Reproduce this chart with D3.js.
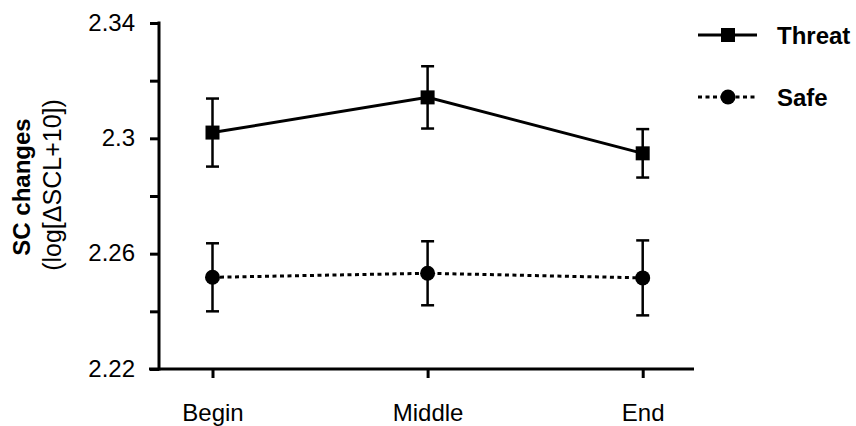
<!DOCTYPE html>
<html><head><meta charset="utf-8">
<script src="https://cdn.jsdelivr.net/npm/d3@7"></script>
<style>body{margin:0;background:#fff}svg{display:block}text{font-family:"Liberation Sans",Arial,sans-serif;fill:#000}</style>
</head><body>
<svg id="c" width="856" height="426"></svg>
<script>
const categories = ["Begin", "Middle", "End"];
const threatMeans = [2.302, 2.3142, 2.2948];
const threatErrors = [0.0118, 0.0108, 0.0084];
const safeMeans = [2.2518, 2.2532, 2.2516];
const safeErrors = [0.0118, 0.0111, 0.013];
const majorTicks = [2.22, 2.26, 2.3, 2.34];
const minorTicks = [2.24, 2.28, 2.32];
const tickLabels = ["2.22", "2.26", "2.3", "2.34"];
const seriesNames = ["Threat", "Safe"];

const svg = d3.select("#c");
const x = d3.scalePoint().domain(categories).range([212.5, 642.7]);
const y = d3.scaleLinear().domain([2.22, 2.34]).range([369, 23]);

// axes
const yAxis = d3.axisLeft(y).tickValues(majorTicks.concat(minorTicks)).tickSize(9)
  .tickFormat(d => { const i = majorTicks.indexOf(d); return i >= 0 ? tickLabels[i] : ""; });
const gy = svg.append("g").attr("transform", "translate(159,0)").call(yAxis);
gy.select(".domain").attr("stroke-width", 3).attr("d", "M0,21.5V370.5");
gy.selectAll(".tick line").attr("stroke-width", 3);
gy.selectAll(".tick text").attr("font-size", 24).attr("x", -24).attr("dy", "0.3em").attr("fill", "#000");

const xAxis = d3.axisBottom(x).tickSize(9).tickSizeOuter(0);
const gx = svg.append("g").attr("transform", "translate(0,369)").call(xAxis);
gx.select(".domain").attr("stroke-width", 3).attr("d", "M149,0H694");
gx.selectAll(".tick line").attr("stroke-width", 3);
gx.selectAll(".tick text").attr("font-size", 24).attr("y", 52).attr("dy", null).attr("fill", "#000");
svg.selectAll(".domain, .tick line").attr("stroke", "#000");

// y label
const yl = svg.append("g").attr("transform", "translate(0,187) rotate(-90)");
yl.append("text").attr("x", 0).attr("y", 30).attr("text-anchor", "middle")
  .attr("font-size", 24).attr("font-weight", "bold").text("SC changes");
yl.append("text").attr("x", 2).attr("y", 61).attr("text-anchor", "middle")
  .attr("font-size", 25).text("(log[\u0394SCL+10])");

const series = [
  {name: seriesNames[0], means: threatMeans, errs: threatErrors, dash: null, shape: "square"},
  {name: seriesNames[1], means: safeMeans, errs: safeErrors, dash: "4,3.5", shape: "circle"}
];

const line = d3.line().x((d, i) => x(categories[i])).y(d => y(d));

function marker(g, shape, cx, cy) {
  if (shape === "square") g.append("rect").attr("x", cx - 7).attr("y", cy - 7).attr("width", 14).attr("height", 14).attr("fill", "#000");
  else g.append("circle").attr("cx", cx).attr("cy", cy).attr("r", 7.5).attr("fill", "#000");
}

series.forEach(s => {
  const g = svg.append("g");
  s.means.forEach((m, i) => {
    const cx = x(categories[i]);
    const t = y(m + s.errs[i]), b = y(m - s.errs[i]);
    g.append("line").attr("x1", cx).attr("x2", cx).attr("y1", t).attr("y2", b).attr("stroke", "#000").attr("stroke-width", 2.5);
    [t, b].forEach(v => g.append("line").attr("x1", cx - 6.5).attr("x2", cx + 6.5).attr("y1", v).attr("y2", v).attr("stroke", "#000").attr("stroke-width", 2.5));
  });
  g.append("path").datum(s.means).attr("d", line).attr("fill", "none").attr("stroke", "#000")
    .attr("stroke-width", 3).attr("stroke-dasharray", s.dash);
  s.means.forEach((m, i) => marker(g, s.shape, x(categories[i]), y(m)));
});

// legend
const legY = [35, 97];
series.forEach((s, i) => {
  const g = svg.append("g");
  g.append("line").attr("x1", 698).attr("x2", 757).attr("y1", legY[i]).attr("y2", legY[i])
    .attr("stroke", "#000").attr("stroke-width", 3).attr("stroke-dasharray", s.dash);
  marker(g, s.shape, 728, legY[i]);
  g.append("text").attr("x", 777).attr("y", legY[i]).attr("dy", "0.36em")
    .attr("font-size", 24).attr("font-weight", "bold").text(s.name);
});
</script>
</body></html>
